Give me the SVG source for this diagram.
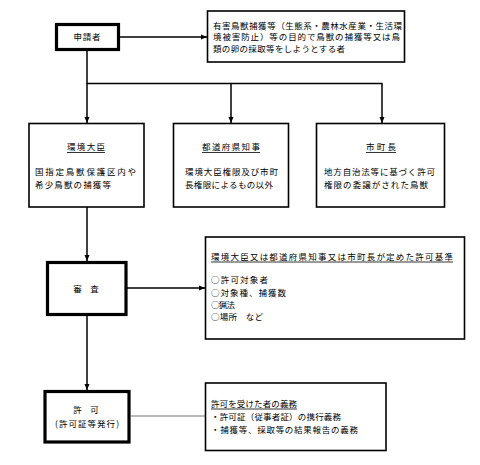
<svg xmlns="http://www.w3.org/2000/svg" width="480" height="465" viewBox="0 0 480 465">
<style>
text{font-family:"Noto Sans CJK JP","Noto Sans CJK SC",sans-serif;font-size:8.5px;fill:#000}
.box{fill:#fff;stroke:#000;stroke-width:1.6}
.tbox{fill:#fff;stroke:#000;stroke-width:3.2}
.c{text-anchor:middle}
.ul{stroke:#000;stroke-width:0.8}
.con{fill:none;stroke:#000;stroke-width:1.5}
</style>
<defs>
<marker id="ah" markerUnits="userSpaceOnUse" viewBox="0 0 6 6" refX="6" refY="3" markerWidth="6" markerHeight="6" orient="auto">
<path d="M0,0.5 L6,3 L0,5.5 z" fill="#000"/>
</marker>
</defs>
<rect width="480" height="465" fill="#fff"/>
<g id="connectors">
<line class="con" x1="120" y1="37" x2="207" y2="37" marker-end="url(#ah)"/>
<polyline class="con" points="87,51 87,83.5"/>
<line class="con" x1="87" y1="83.5" x2="382" y2="83.5"/>
<line class="con" x1="87" y1="83" x2="87" y2="123" marker-end="url(#ah)"/>
<line class="con" x1="231" y1="83" x2="231" y2="123" marker-end="url(#ah)"/>
<line class="con" x1="382" y1="83" x2="382" y2="123" marker-end="url(#ah)"/>
<line class="con" x1="87" y1="207" x2="87" y2="261" marker-end="url(#ah)"/>
<line class="con" x1="127" y1="288" x2="205" y2="288" marker-end="url(#ah)"/>
<line class="con" x1="87" y1="316" x2="87" y2="390" marker-end="url(#ah)"/>
<line x1="131" y1="416" x2="205" y2="416" stroke="#777" stroke-width="1.2"/>
</g>
<g id="applicant">
<rect class="tbox" x="56.5" y="24.5" width="62" height="25"/>
<text class="c" x="87" y="40" textLength="27">申請者</text>
</g>
<g id="applicant-note">
<rect class="box" x="207.5" y="11" width="197" height="51"/>
<text x="213" y="28.5" textLength="189">有害鳥獣捕獲等（生態系・農林水産業・生活環</text>
<text x="213" y="40" textLength="187">境被害防止）等の目的で鳥獣の捕獲等又は鳥</text>
<text x="213" y="51.5" textLength="132">類の卵の採取等をしようとする者</text>
</g>
<g id="minister">
<rect class="box" x="29" y="123.5" width="115" height="83.5"/>
<text class="c" x="86" y="150" textLength="38">環境大臣</text>
<line class="ul" x1="67" y1="152.5" x2="105" y2="152.5"/>
<text x="35" y="175" textLength="101">国指定鳥獣保護区内や</text>
<text x="35" y="187.5" textLength="76">希少鳥獣の捕獲等</text>
</g>
<g id="governor">
<rect class="box" x="173.5" y="123.5" width="115" height="83.5"/>
<text class="c" x="231" y="150" textLength="58">都道府県知事</text>
<line class="ul" x1="202" y1="152.5" x2="260" y2="152.5"/>
<text x="185" y="175" textLength="93">環境大臣権限及び市町</text>
<text x="185" y="187.5" textLength="88">長権限によるもの以外</text>
</g>
<g id="mayor">
<rect class="box" x="316.5" y="123.5" width="128" height="83.5"/>
<text class="c" x="381" y="150" textLength="30">市町長</text>
<line class="ul" x1="366" y1="152.5" x2="396" y2="152.5"/>
<text x="324" y="175" textLength="111">地方自治法等に基づく許可</text>
<text x="324" y="187.5" textLength="104">権限の委譲がされた鳥獣</text>
</g>
<g id="review">
<rect class="tbox" x="47.5" y="262.5" width="78.5" height="52"/>
<text class="c" x="86" y="291.5">審　査</text>
</g>
<g id="criteria">
<rect class="box" x="205.5" y="237" width="259" height="102"/>
<text x="211" y="259.5" textLength="242">環境大臣又は都道府県知事又は市町長が定めた許可基準</text>
<line class="ul" x1="211" y1="262" x2="453" y2="262"/>
<text x="211" y="283" textLength="57">○許可対象者</text>
<text x="211" y="295.5" textLength="75">○対象種、捕獲数</text>
<text x="211" y="307.5" textLength="24">○猟法</text>
<text x="211" y="319.5" textLength="52">○場所　など</text>
</g>
<g id="permit">
<rect class="tbox" x="45" y="391.5" width="84" height="50.5"/>
<text class="c" x="86" y="413">許　可</text>
<text class="c" x="87" y="426.5" textLength="64">(許可証等発行)</text>
</g>
<g id="obligations">
<rect class="box" x="205.5" y="383" width="180.5" height="67.5"/>
<text x="211" y="406.5" textLength="86">許可を受けた者の義務</text>
<line class="ul" x1="211" y1="409" x2="297" y2="409"/>
<text x="211" y="419.5" textLength="130">・許可証（従事者証）の携行義務</text>
<text x="211" y="432.5" textLength="147">・捕獲等、採取等の結果報告の義務</text>
</g>
</svg>
